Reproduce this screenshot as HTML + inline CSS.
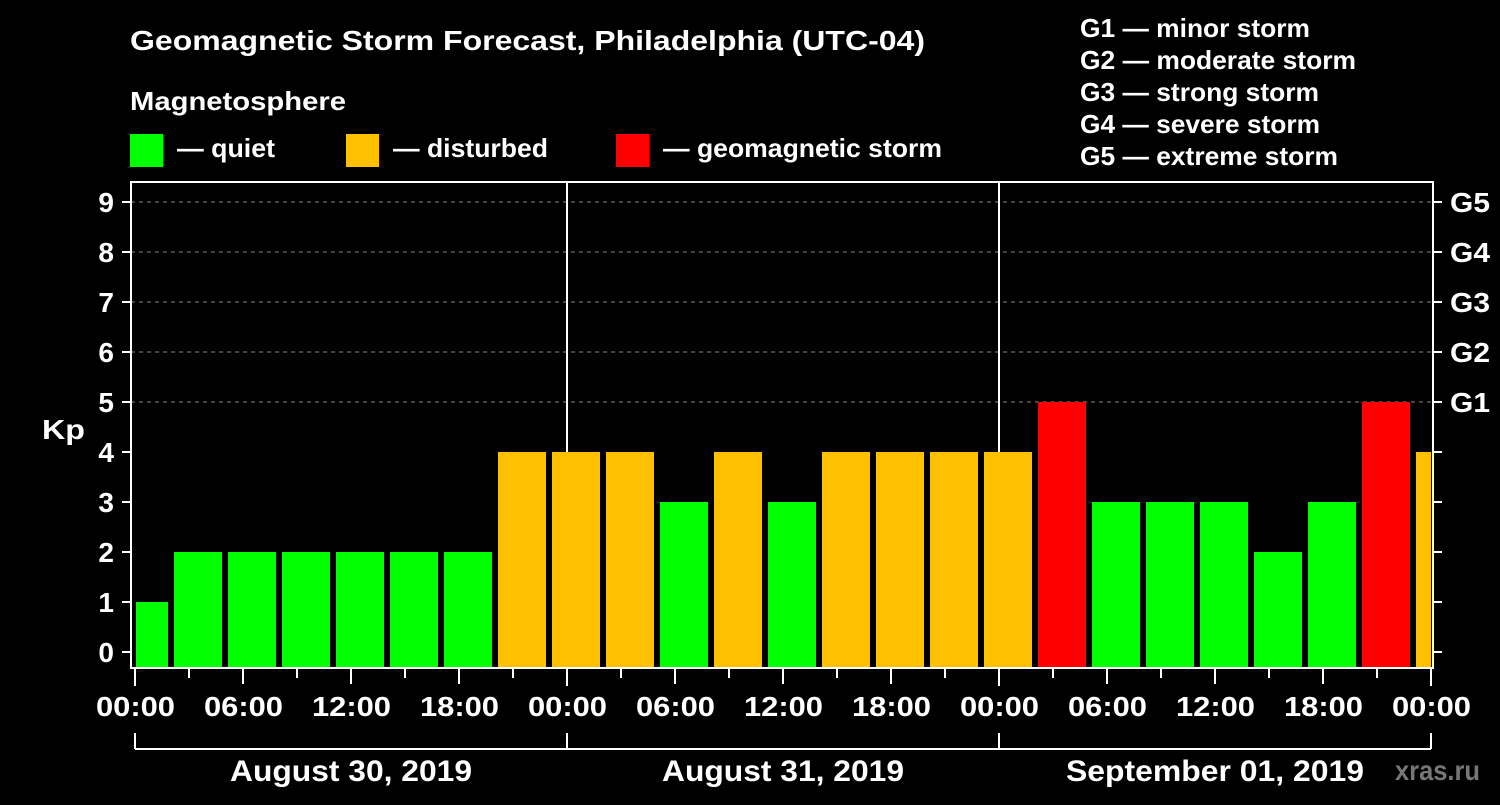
<!DOCTYPE html>
<html><head><meta charset="utf-8"><style>
body{margin:0;background:#000;width:1500px;height:800px;overflow:hidden}
svg{font-family:"Liberation Sans",sans-serif;font-weight:bold}
</style></head><body>
<svg id="c" width="1500" height="800" viewBox="0 0 1500 800">
<text x="130" y="50" fill="#fff" font-size="28" textLength="795" lengthAdjust="spacingAndGlyphs">Geomagnetic Storm Forecast, Philadelphia (UTC-04)</text>
<text x="130" y="110" fill="#fff" font-size="26" textLength="216" lengthAdjust="spacingAndGlyphs">Magnetosphere</text>
<g><rect x="130" y="134" width="33" height="33" fill="#00ff00"/><text x="177" y="157" fill="#fff" font-size="26" textLength="98" lengthAdjust="spacingAndGlyphs">— quiet</text></g>
<g><rect x="346" y="134" width="33" height="33" fill="#ffc000"/><text x="393" y="157" fill="#fff" font-size="26" textLength="155" lengthAdjust="spacingAndGlyphs">— disturbed</text></g>
<g><rect x="616" y="134" width="33" height="33" fill="#ff0000"/><text x="663" y="157" fill="#fff" font-size="26" textLength="279" lengthAdjust="spacingAndGlyphs">— geomagnetic storm</text></g>
<g fill="#fff" font-size="26">
<text x="1080" y="37" textLength="230" lengthAdjust="spacingAndGlyphs">G1 — minor storm</text>
<text x="1080" y="69" textLength="276" lengthAdjust="spacingAndGlyphs">G2 — moderate storm</text>
<text x="1080" y="101" textLength="239" lengthAdjust="spacingAndGlyphs">G3 — strong storm</text>
<text x="1080" y="133" textLength="240" lengthAdjust="spacingAndGlyphs">G4 — severe storm</text>
<text x="1080" y="165" textLength="258" lengthAdjust="spacingAndGlyphs">G5 — extreme storm</text></g>
<text x="42" y="439" fill="#fff" font-size="28" textLength="43" lengthAdjust="spacingAndGlyphs">Kp</text>
<g id="grid"></g><g id="bars"></g><g id="axes"></g>
<text x="1395" y="780" fill="#777" font-size="28" textLength="85" lengthAdjust="spacingAndGlyphs">xras.ru</text>
</svg>
<script>
const kpValues=[1,2,2,2,2,2,2,4,4,4,3,4,3,4,4,4,4,5,3,3,3,2,3,5,4];
const dayLabels=["August 30, 2019","August 31, 2019","September 01, 2019"];
const hourLabels=["00:00","06:00","12:00","18:00"];
const gLabels=["G1","G2","G3","G4","G5"];
const NS="http://www.w3.org/2000/svg";
const X0=135,DAY=432,L=131,R=1433,T=182,B=668;
const x=h=>X0+h*DAY/24;
const y=v=>652-v*50;
function mk(p,tag,a){const e=document.createElementNS(NS,tag);for(const k in a)e.setAttribute(k,a[k]);p.appendChild(e);return e;}
const grid=document.getElementById('grid'),bars=document.getElementById('bars'),axes=document.getElementById('axes');
for(let v=5;v<=9;v++){const l=mk(grid,'line',{x1:L,x2:R,y1:y(v),y2:y(v),stroke:'#888','stroke-width':1,'stroke-dasharray':'4 4'});

}
for(let d=1;d<dayLabels.length;d++){const l=mk(grid,'line',{x1:x(24*d),x2:x(24*d),y1:T,y2:B,stroke:'#fff','stroke-width':2});

}
kpValues.forEach((v,i)=>{
 let s=x(-1+3*i)+3,e=x(2+3*i)-3;
 s=Math.max(s,x(0)+1);e=Math.min(e,R-2);
 if(e<=s)return;
 const c=v>=5?'#ff0000':(v>=4?'#ffc000':'#00ff00');
 const r=mk(bars,'rect',{x:s,y:y(v),width:e-s,height:B-y(v),fill:c});
 
 
});
const f=mk(axes,'rect',{x:L,y:T,width:R-L,height:B-T,fill:'none',stroke:'#fff','stroke-width':2});


for(let v=0;v<=9;v++){
 mk(axes,'line',{x1:122,x2:L,y1:y(v),y2:y(v),stroke:'#fff','stroke-width':2});
 mk(axes,'line',{x1:R,x2:1442,y1:y(v),y2:y(v),stroke:'#fff','stroke-width':2});
 const t=mk(axes,'text',{x:114,y:y(v)+10,fill:'#fff','font-size':28,'text-anchor':'end'});t.textContent=v;
 
 
 if(v>=5){const g=mk(axes,'text',{x:1450,y:y(v)+10,fill:'#fff','font-size':28,textLength:40,lengthAdjust:'spacingAndGlyphs'});g.textContent=gLabels[v-5];
 
 }
}
for(let h=0;h<=24*dayLabels.length;h+=3){
 const major=h%6===0;
 mk(axes,'line',{x1:x(h),x2:x(h),y1:B,y2:major?(h%24===0?686:684):678,stroke:'#fff','stroke-width':2});
 if(major){const t=mk(axes,'text',{x:x(h)-39,y:716,fill:'#fff','font-size':28,textLength:79,lengthAdjust:'spacingAndGlyphs'});t.textContent=hourLabels[(h%24)/6];
 
 }
}
mk(axes,'line',{x1:x(0),x2:x(24*dayLabels.length),y1:749,y2:749,stroke:'#fff','stroke-width':2});
for(let d=0;d<=dayLabels.length;d++)mk(axes,'line',{x1:x(24*d),x2:x(24*d),y1:733,y2:749,stroke:'#fff','stroke-width':2});
dayLabels.forEach((s,d)=>{const w=s.length>16?298:242;const t=mk(axes,'text',{x:x(24*d+12)-w/2,y:781,fill:'#fff','font-size':30,textLength:w,lengthAdjust:'spacingAndGlyphs'});t.textContent=s;
 
 });
</script>
</body></html>
